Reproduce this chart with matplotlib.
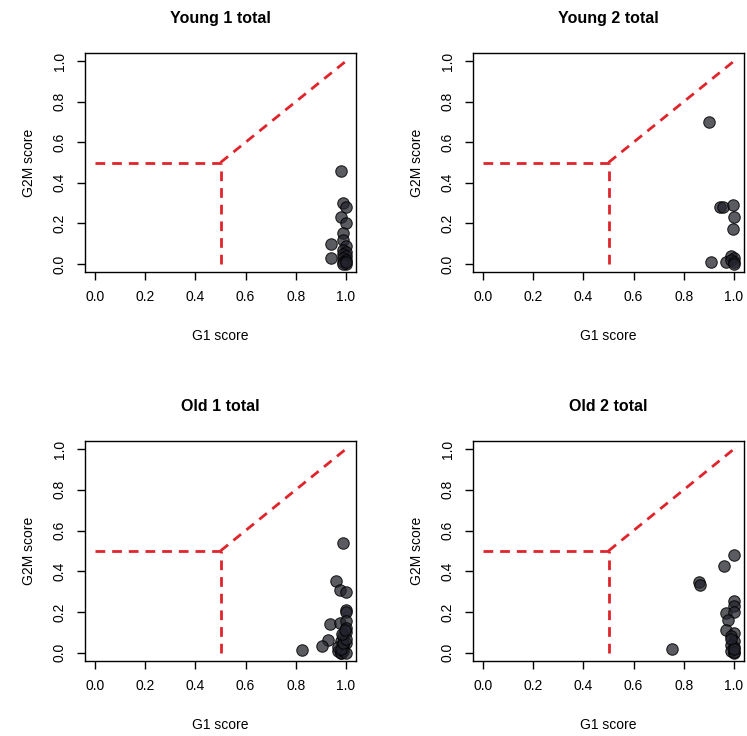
import matplotlib.pyplot as plt

plt.rcParams['font.family'] = ['Liberation Sans', 'DejaVu Sans']

titles = ["Young 1 total", "Young 2 total", "Old 1 total", "Old 2 total"]

young1_g1 = [0.98, 0.99, 1.00, 0.98, 1.00, 0.99, 0.99, 0.94, 0.94,
             1.00, 0.99, 1.00, 0.99, 1.00, 0.99, 1.00, 0.99, 1.00, 0.99, 1.00]
young1_g2m = [0.46, 0.30, 0.28, 0.23, 0.20, 0.15, 0.12, 0.10, 0.03,
              0.09, 0.07, 0.06, 0.05, 0.04, 0.03, 0.02, 0.01, 0.00, 0.00, 0.01]

young2_g1 = [0.90, 0.945, 0.955, 0.995, 1.00, 0.995, 0.91, 0.97,
             0.99, 1.00, 0.99, 1.00, 1.00]
young2_g2m = [0.70, 0.28, 0.28, 0.29, 0.23, 0.17, 0.01, 0.01,
              0.04, 0.03, 0.02, 0.01, 0.00]

old1_g1 = [0.99, 0.96, 0.975, 1.00, 1.00, 1.00, 0.935, 0.975, 1.00, 0.93, 0.905, 0.825,
           0.97, 0.98, 0.99, 1.00, 0.98, 0.99, 1.00, 0.97, 0.99, 1.00, 0.98, 0.99, 1.00,
           0.98, 0.99, 1.00, 0.985, 0.995]
old1_g2m = [0.54, 0.35, 0.31, 0.30, 0.21, 0.20, 0.14, 0.145, 0.155, 0.065, 0.035, 0.015,
            0.01, 0.00, 0.02, 0.05, 0.06, 0.08, 0.10, 0.03, 0.04, 0.12, 0.00, 0.01, 0.00,
            0.02, 0.05, 0.07, 0.09, 0.11]

old2_g1 = [1.00, 0.96, 0.86, 0.865, 1.00, 1.00, 0.968, 1.00, 0.976, 0.968, 0.753,
           1.00, 0.99, 1.00, 0.99, 1.00, 0.99, 1.00, 1.00, 0.99, 1.00]
old2_g2m = [0.48, 0.425, 0.345, 0.335, 0.255, 0.23, 0.195, 0.20, 0.16, 0.11, 0.02,
            0.095, 0.08, 0.06, 0.04, 0.03, 0.01, 0.00, 0.005, 0.07, 0.02]

data = [(young1_g1, young1_g2m), (young2_g1, young2_g2m),
        (old1_g1, old1_g2m), (old2_g1, old2_g2m)]

ticks = [0.0, 0.2, 0.4, 0.6, 0.8, 1.0]
tick_labels = ["0.0", "0.2", "0.4", "0.6", "0.8", "1.0"]

# panel boxes in figure fraction: left, bottom, width, height
boxes = [(0.1138, 0.6304, 0.3628, 0.2976),
         (0.6332, 0.6304, 0.3628, 0.2976),
         (0.1138, 0.1020, 0.3628, 0.2990),
         (0.6332, 0.1020, 0.3628, 0.2990)]

fig = plt.figure(figsize=(7.47, 7.36), dpi=100)

for i in range(4):
    ax = fig.add_axes(boxes[i])
    g1, g2m = data[i]

    # seuils
    ax.plot([0, 0.5], [0.5, 0.5], color="#e0242b", lw=2, ls=(0, (3.5, 2.5)))
    ax.plot([0.5, 0.5], [0, 0.5], color="#e0242b", lw=2, ls=(0, (3.5, 2.5)))
    ax.plot([0.5, 1], [0.5, 1], color="#e0242b", lw=2, ls=(0, (3.5, 2.5)))

    ax.scatter(g1, g2m, s=68, facecolor=(0.14, 0.14, 0.18, 0.75),
               edgecolor=(0, 0, 0, 0.8), linewidth=0.8, zorder=3)

    ax.set_xlim(-0.04, 1.04)
    ax.set_ylim(-0.04, 1.04)
    ax.set_xticks(ticks)
    ax.set_xticklabels(tick_labels)
    ax.set_yticks(ticks)
    ax.set_yticklabels(tick_labels, rotation=90, va="center")
    ax.tick_params(length=6, width=1, labelsize=10, pad=7)
    for sp in ax.spines.values():
        sp.set_linewidth(1)

    ax.set_title(titles[i], fontsize=11.5, fontweight="bold", pad=21.5)
    ax.set_xlabel("G1 score", fontsize=10, labelpad=18)
    ax.set_ylabel("G2M score", fontsize=10, labelpad=12)

fig.savefig("out.png", dpi=100)
